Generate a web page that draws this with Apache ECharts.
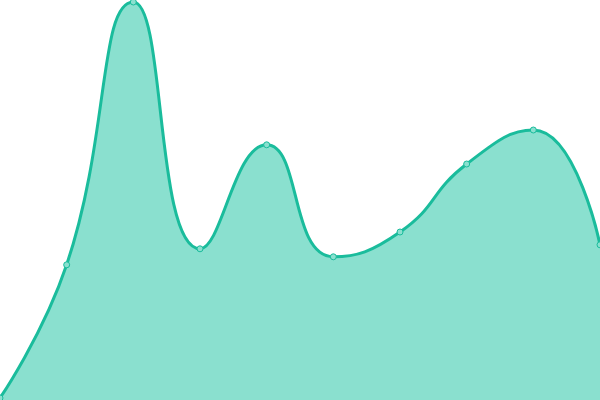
<!DOCTYPE html>
<html>
<head>
<meta charset="utf-8">
<script src="https://cdn.jsdelivr.net/npm/echarts@6/dist/echarts.min.js"></script>
<style>
  html, body { margin: 0; padding: 0; background: #fff; }
  #main { width: 600px; height: 400px; }
</style>
</head>
<body>
<div id="main"></div>
<script>
// 数据
var categories = ['1', '2', '3', '4', '5', '6', '7', '8', '9', '10'];
var values = [0.5, 33.8, 99.5, 37.8, 63.8, 35.8, 42, 59, 67.5, 38.8];

var myChart = echarts.init(document.getElementById('main'));

var option = {
    animation: false,
    grid: { left: 0, right: 0, top: 0, bottom: 0 },
    xAxis: {
        type: 'category',
        boundaryGap: false,
        data: categories,
        show: false
    },
    yAxis: {
        type: 'value',
        min: 0,
        max: 100,
        show: false
    },
    series: [
        {
            type: 'line',
            smooth: true,
            data: values,
            symbol: 'circle',
            symbolSize: 6,
            lineStyle: { color: '#1abc9c', width: 3 },
            itemStyle: { color: '#8ae0cf', borderColor: '#1abc9c', borderWidth: 1 },
            areaStyle: { color: '#8ae0cf', opacity: 1 }
        }
    ]
};

myChart.setOption(option);
</script>
</body>
</html>
